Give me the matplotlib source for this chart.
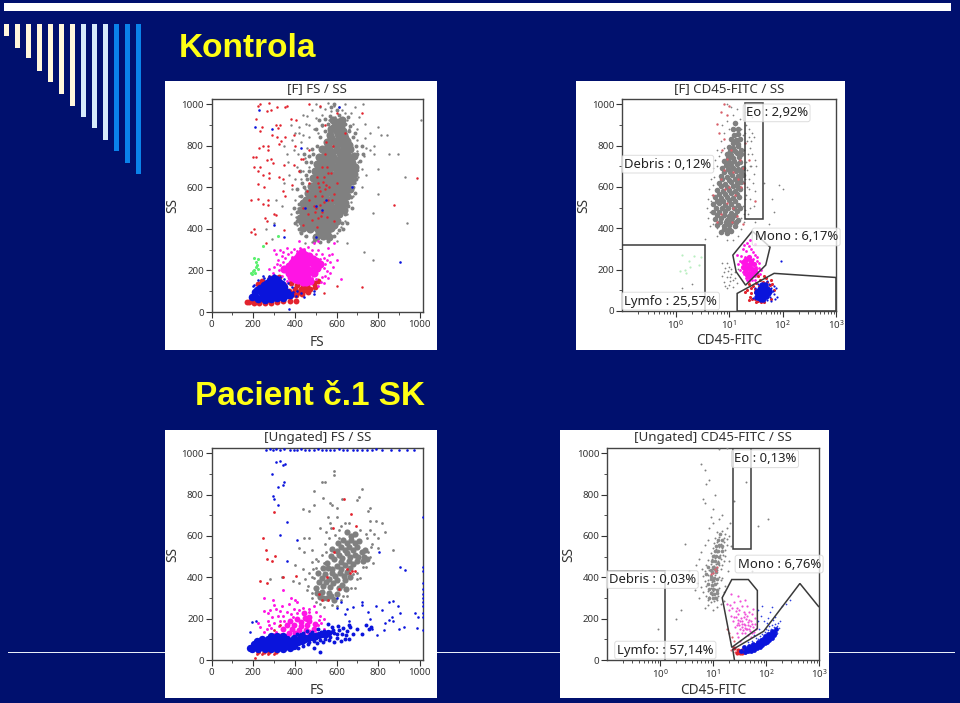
import numpy as np
from matplotlib import pyplot as plt
from matplotlib.patches import Rectangle, Polygon

# Points: (FS or CD45, SS)
# ---- panel 1: [F] FS / SS
f1_gray_core = [(500,362),(535,368),(565,360),(440,402),(472,398),(508,405),(540,396),(575,403),
    (435,432),(468,438),(503,430),(538,436),(572,433),(602,440),(440,468),(475,473),(510,466),(545,472),(580,468),(612,474),
    (445,503),(480,508),(515,502),(550,507),(585,501),(620,506),(452,538),(488,543),(523,536),(558,541),(593,537),(628,542),
    (465,573),(500,578),(535,571),(570,577),(605,572),(640,576),(478,608),(512,613),(547,606),(582,612),(617,607),(650,611),
    (488,643),(522,648),(557,641),(592,647),(627,642),(660,646),(495,678),(530,683),(565,676),(600,682),(635,677),(668,681),
    (505,713),(540,718),(575,711),(610,717),(645,712),(675,716),(515,748),(550,753),(585,746),(620,752),(655,747),
    (530,783),(565,788),(600,781),(635,787),(665,782),(552,818),(587,823),(622,816),(652,822),(570,853),(605,858),(635,851),(588,888),(622,893)]
f1_gray_fill = [(518,385),(552,383),(458,418),(490,420),(525,418),(558,420),(590,420),(452,452),(487,452),(522,450),(556,452),(592,452),(425,450),(458,488),(492,488),(528,486),(562,488),(598,488),(634,490),(428,490),
    (465,522),(500,522),(535,520),(570,522),(606,520),(640,525),(438,525),(478,556),(512,558),(547,555),(582,557),(618,556),(652,558),(490,590),(525,592),(558,590),(594,592),(630,590),(664,592),
    (500,628),(535,628),(570,626),(605,628),(640,626),(674,628),(510,662),(545,662),(582,660),(617,662),(650,660),(682,662),(518,698),(552,698),(590,696),(625,698),(660,696),(690,698),
    (530,732),(565,732),(600,730),(635,732),(670,730),(545,766),(580,768),(615,766),(650,766),(682,750),(560,802),(596,802),(630,802),(662,802),(575,838),(610,838),(642,838),(600,872),(630,872),(575,880),(605,915),(625,925),(585,925)]
f1_gray_edge = [(418,400),(412,440),(410,480),(418,520),(430,560),(445,600),(460,640),(470,680),(478,720),(488,760),(505,800),(520,840),(545,870),(560,905),(570,945),(610,950),(640,905),(660,870),(680,840),(695,800),(700,760),(712,725),(700,685),(695,640),(680,600),(670,555),(655,510),(640,470),(625,430),(610,395),(590,365),(560,340),(520,335),(490,340),(455,365),(430,380),(600,970),(575,985),(590,1000),(615,925),(655,940),
    (480,785),(470,750),(455,720),(452,660),(435,620),(412,590),(425,680),(445,760),(530,900),(545,930),(500,880),(515,925),(665,895),(690,860),(720,800),(725,760),(690,575),(675,500),(650,430),(400,430),(395,500),(630,400)]
f1_gray_halo = [(500,1000),(520,985),(480,970),(545,975),(575,965),(610,985),(640,960),(690,985),(725,1000),(460,945),(500,935),(530,950),(565,925),(595,940),(650,925),(680,905),(710,940),
    (420,890),(455,905),(490,880),(530,895),(660,880),(700,880),(735,905),(760,860),(800,890),(815,850),(400,860),(440,850),(470,840),(510,860),(700,830),(735,835),(780,800),
    (850,760),(895,760),(780,760),(740,790),(730,750),(700,775),(705,720),(720,690),(800,690),(740,660),(705,650),(690,620),(720,600),(800,570),(680,560),(670,530),
    (460,790),(450,740),(470,700),(440,680),(410,700),(430,640),(450,590),(420,560),(400,540),(415,500),(405,455),(410,420),(425,385),(450,365),(650,470),(640,440),(775,475),(620,410),(600,380),
    (310,540),(300,430),(350,620),(380,470),(340,510),(360,760),(385,830),(290,350),(260,400),(650,330),(600,340),(520,335),(480,335),(450,330),(730,290),(775,250),
    (395,780),(415,760),(400,640),(385,590),(370,660),(365,720),(350,800),(440,950),(470,900),(380,900),(430,820),(420,860),(760,780),(670,960),(640,1000),(560,1005),(590,990),(625,970),(930,650),(940,430),(1005,925),(840,850)]
f1_red_sparse = [(225,990),(235,1000),(275,1005),(265,965),(285,970),(315,985),(355,985),(360,990),(215,930),(240,890),(235,870),(310,900),(320,885),(330,900),(290,850),(315,840),(335,825),(245,800),(230,790),
    (270,800),(270,780),(325,810),(355,840),(395,850),(380,930),(405,925),(200,745),(215,745),(205,700),(235,700),(265,730),(285,735),(295,715),(350,705),(395,705),(430,735),(225,680),(245,660),(275,670),(275,645),
    (325,650),(345,640),(385,610),(225,615),(250,600),(190,540),(225,545),(245,520),(270,515),(270,540),(345,580),(355,560),(300,470),(310,465),(255,450),(265,440),(190,385),(205,400),(210,375),(260,330),(350,395),
    (420,680),(440,735),(400,800),(470,780),(470,540),(490,510),(495,560),(510,620),(520,580),(540,650),(560,670),(575,670),(530,700),(545,760),(585,800),(550,820),(540,530),(525,460),(555,455),(480,445),(505,410),(530,480),(580,540),(600,620),
    (520,990),(470,1000),(545,900),(600,960),(720,960),(640,860),(985,645),(875,515),(440,420),(590,440),(720,120),(600,125),(540,90),(440,500),(460,580),
    (515,600),(530,560),(550,610),(565,600),(505,650),(535,625),(495,480),(465,470),(510,450),(500,500),(520,515),(545,590),(555,700),(560,540),(590,570),(470,620)]
f1_red_low = [(180,48),(205,42),(230,42),(255,42),(285,45),(315,48),(345,52),(375,55),(235,60),(275,58),(345,70),(375,75),(405,80),(405,55),(435,85),(465,95),(495,118),(430,110),(400,110),(370,100),
    (460,125),(490,140),(510,150),(260,130),(290,140),(300,165),(240,150),(225,135),(380,140),(390,92),(420,98),(450,108),(475,112),(410,130),(440,130),(350,130),(325,170),(280,165),(200,55),(170,48)]
f1_magenta_core = [(370,190),(400,180),(430,170),(460,170),(490,190),(370,220),(400,215),(430,205),(460,205),(490,225),(395,250),(425,240),(455,240),(485,255),(420,275),(450,275),(400,160),(440,145),(520,230),
    (350,205),(385,200),(415,195),(445,188),(475,195),(505,210),(385,235),(415,225),(445,222),(475,240),(410,260),(440,258),(470,270),(500,245),(380,170),(415,155),(455,145),(475,150),(435,290)]
f1_magenta_halo = [(320,250),(300,215),(340,175),(330,225),(355,260),(345,290),(380,290),(395,305),(425,310),(465,315),(490,330),(510,300),(530,280),(540,260),(555,250),(590,330),
    (510,200),(540,210),(570,190),(560,165),(530,170),(540,140),(510,125),(480,165),(570,240),(585,215),(310,280),(295,190),(360,150),(330,150),(620,160),(580,280),(600,250),
    (325,200),(315,230),(345,240),(365,280),(385,265),(410,295),(445,305),(480,300),(500,280),(520,255),(545,230),(555,195),(545,175),(525,145),(500,160),(340,270),(360,310),(300,300),(275,205),(330,300),(420,340),(510,340),(565,275),(560,310)]
f1_blue_core = [(195,70),(225,62),(255,60),(285,62),(315,65),(345,68),(375,80),(210,95),(240,90),(270,88),(300,90),(330,92),(360,98),(235,115),(265,115),(295,118),(325,120),(350,122),(265,140),(295,145),(325,145),(300,165),
    (210,75),(240,72),(270,72),(300,72),(330,75),(360,80),(220,105),(250,102),(285,105),(315,105),(345,108),(250,128),(280,130),(310,132),(340,135),(280,155),(310,158)]
f1_blue_sparse = [(205,130),(225,155),(250,165),(245,175),(275,175),(300,180),(330,170),(390,95),(410,100),(430,90),(490,85),(370,15),(610,985),(230,970),(290,880),(210,890),(430,790),(350,360),(300,420),(500,510),(530,490),(675,600),(450,500),(905,240),(550,540),(500,360),(200,125),(385,120),(365,140),(350,160),(405,75),(490,100),(445,70)]
f1_green = [(205,200),(195,185),(210,190),(215,215),(212,240),(205,260),(225,205),(320,365),(245,320),(200,195),(218,225),(190,190),(222,255)]

# ---- panel 2: [F] CD45-FITC / SS
f2_gray_core = [(7,380),(9,375),(11,385),(6,415),(8,412),(10,418),(13,410),(5.5,445),(7,450),(9,442),(11.5,448),(15,440),
    (5,480),(6.5,478),(8.5,484),(11,476),(14,482),(5,515),(6.5,520),(8.5,512),(11,518),(14.5,513),(5.5,550),(7,545),(9,552),(12,547),(15.5,553),
    (6,585),(7.8,580),(10,587),(13,582),(16,588),(6.5,620),(8.5,615),(11,622),(14,617),(17,623),(7,655),(9,650),(11.5,657),(14.5,652),(18,658),
    (7.5,690),(9.5,685),(12,692),(15,687),(18,693),(8,725),(10,720),(12.5,727),(16,722),(9,760),(11,755),(14,762),(17,757),(10,795),(12,790),(15,797),(11,830),(13.5,825),(16,832)]
f2_gray_fill = [(8,395),(10,398),(6.7,432),(8.7,430),(11,432),(13.5,428),(6,462),(8,465),(10,460),(12.8,465),(5.8,498),(7.5,500),(9.7,497),(12.5,500),(16,498),(6,532),(7.8,530),(10,535),(13,532),(6.5,568),(8.3,565),(11,570),(14,567),
    (7,602),(9,600),(11.8,605),(15,600),(7.5,638),(10,635),(12.8,640),(16,637),(8.2,672),(10.5,670),(13.5,675),(17,670),(8.7,708),(11,705),(14,710),(9.5,742),(12,738),(15.5,745),(10.5,775),(13,772),(16.5,778),(12,810),(14.5,808),(12.5,850),(15,855),(12,880),(14.5,880),(13,910)]
f2_gray_halo = [(9,1000),(11,985),(14,975),(20,960),(27,940),(12,950),(16,930),(21,900),(24,880),(27,860),(29,840),(13,900),(17,880),(8,860),(10,880),(22,820),(25,790),(27,760),(30,730),(32,700),(26,700),(29,660),
    (24,640),(28,620),(22,600),(30,580),(25,540),(29,510),(20,490),(23,470),(19,430),(17,395),(15,365),(12,345),(9,345),(6,365),(4.5,410),(4,450),(3.8,500),(4,540),(4.2,590),(4.6,640),(5,690),(5.5,730),(6,780),(7,820),(8,790),
    (9,230),(10,215),(8,190),(11,180),(9,165),(12,150),(8,140),(10,125),(13,190),(12,115),(14,135),(7.5,230),(9,110),(10.5,145),(15,205),(70,480),(85,610),(55,420),(65,540),(30,430),(3.5,350),(2,130),(1.3,110),(100,590),(45,620),
    (19,780),(21,720),(22,680),(20,640),(21,560),(20,540),(18,510),(19,470),(17,450),(4.5,480),(4.6,530),(5,610),(5.3,650),(6,700),(6.5,750),(7,770),(7.5,900),(9,920),(18,850),(20,860),(24,840),(26,820),(23,760),(25,700),(24,590),(25,500),(8.5,210),(9.5,195),(10.5,165),(7.5,170),(8.5,120),(11,205),(13,160),(6,400),(5,420),(4.8,560)]
f2_red = [(8,1000),(10,990),(7,960),(9,950),(6,905),(6.5,860),(8,830),(7.5,780),(9,735),(8,680),(7,640),(12,670),(15,640),(17,600),(13,560),(9,520),(7,470),(6,430),(12,500),(14,460),(18,690),(16,730),(11,780),(10,600),(8.5,590),(11.5,430),(5,560),(19,620),(24,730),(30,530),(18,420),(20,810)]
f2_magenta = [(14,270),(16,240),(18,210),(16,200),(19,180),(21,160),(24,145),(27,150),(31,170),(34,190),(36,210),(34,240),(30,270),(26,300),(22,330),(18,300),(20,260),(22,230),(24,200),(27,190),(23,260),(29,225),(20,205),(25,170),(32,215),(21,290),(25,235),(28,250),(25,345),(30,325),(38,180),(15,225),(17,265),(19,320),(24,315),(28,285),(33,260),(37,230),(40,200),(18,190),(22,150),(30,150)]
f2_magenta_core = [(20,225),(23,215),(26,210),(20,195),(24,185),(28,195),(22,250),(26,240),(24,165),(29,225),(18,235),(22,175),(18,215),(21,205),(25,225),(30,205),(27,175),(24,260),(20,245),(32,185)]
f2_red_low = [(24,130),(28,120),(32,135),(38,150),(22,100),(26,85),(30,60),(35,50),(40,45),(25,70),(30,105),(50,160),(60,150),(65,130),(70,100),(62,60),(20,90),(45,170),(35,170),(26,110),(30,90),(27,60),(32,45),(45,45),(36,120),(44,140),(52,140),(24,55),(58,125)]
f2_blue_core = [(33,70),(38,65),(44,65),(50,72),(34,90),(40,85),(46,88),(53,85),(38,108),(44,110),(51,105),(42,125),(48,128),(36,78),(42,75),(48,80),(36,98),(42,98),(48,98),(41,58),(55,95),(46,118)]
f2_blue_sparse = [(28,65),(30,85),(58,70),(60,90),(62,110),(66,95),(57,130),(52,145),(35,130),(70,80),(75,110),(46,50),(38,50),(80,70),(95,240),(68,120),(72,60),(30,110),(52,55),(60,50)]
f2_green = [(1.5,200),(1.8,240),(2.2,265),(1.9,215),(1.6,185),(1.2,195),(3,260),(2.7,220),(1.3,270)]
f2_debris_gate = [(0.1,318),(3.6,318),(3.6,0)]
f2_eo_gate = [(19.6,445),(44,445),(44,1005),(19.6,1005)]
f2_mono_gate = [(27.3,386),(58.6,309),(48.6,222),(20.4,125),(13.6,190),(11.8,270)]
f2_lymfo_gate = [(14.2,0),(14.2,85),(69.7,182),(1000,162),(1000,0)]

# ---- panel 3: [Ungated] FS / SS
f3_gray_core = [(555,300),(590,290),(530,330),(565,325),(600,320),(500,350),(535,360),(570,355),(610,350),(645,345),(530,395),(565,390),(600,385),(640,385),(580,420),(615,420),(650,425),(560,445),(600,455),
    (640,460),(680,465),(590,490),(625,495),(665,500),(705,500),(600,525),(640,530),(680,530),(720,520),(650,565),(690,565),(670,600)]
f3_gray_fill = [(520,305),(505,325),(535,300),(575,310),(515,375),(550,375),(585,370),(625,365),(545,415),(510,420),(595,405),(635,405),(665,400),(535,445),(580,440),(620,440),(665,445),(555,470),(620,475),(660,480),(700,480),
    (575,505),(610,510),(650,515),(690,510),(730,500),(620,545),(660,545),(700,545),(735,530),(630,580),(670,580),(710,575),(650,620),(690,610),(725,480),(745,490),(580,535),(605,565)]
f3_gray_halo = [(590,915),(590,895),(530,860),(545,860),(720,825),(710,790),(625,780),(490,815),(490,750),(535,785),(570,760),(580,750),(600,735),(700,775),(760,735),(750,720),(470,720),
    (440,730),(600,690),(560,690),(640,660),(570,660),(760,670),(790,670),(820,660),(835,620),(780,610),(800,590),(740,610),(520,640),(550,620),(610,630),(770,560),(800,540),(870,530),(760,500),(740,450),
    (700,420),(750,520),(470,590),(445,590),(420,540),(445,520),(480,475),(400,460),(440,440),(470,420),(500,445),(450,390),(480,400),(420,370),(390,380),(340,400),(280,390),(460,340),(480,300),(500,280),(540,255),(600,260),(590,300),(630,310),(670,350),(700,390),(510,480),(550,520),(540,470),
    (575,640),(595,605),(620,650),(660,660),(715,630),(745,590),(760,630),(765,545),(775,470),(725,450),(715,395),(680,415),(690,350),(650,310),(620,290),(580,265),(520,270),(480,325),(465,360),(490,395),(485,440),(500,490),(530,510),(545,560),(565,590),(610,590),(480,530)]
f3_red = [(300,715),(635,780),(585,640),(670,705),(695,650),(245,590),(260,530),(265,490),(290,480),(305,505),(345,400),(405,405),(235,380),(265,370),(530,290),(560,290),(515,320),(590,520),(650,440),(675,430),(690,430),(665,420),(610,345),(555,400),(300,145),(330,170),(310,100),(270,30),(220,30),(240,30),(300,30),(230,40),(210,8)]
f3_red_low = [(225,40),(250,40),(275,38),(310,38)]
f3_magenta_core = [(370,130),(400,130),(440,120),(470,135),(360,170),(395,170),(430,165),(460,170),(495,175),(410,200),(450,205),(470,210),(345,150),(385,150),(420,145),(455,145),(490,150),(375,190),(430,185),(445,225),(470,190),(415,115),(360,115)]
f3_magenta_halo = [(250,235),(270,225),(290,210),(310,245),(340,260),(370,270),(400,290),(410,280),(440,250),(470,245),(500,230),(520,215),(540,200),(270,190),(300,180),(330,190),(345,150),(265,150),(250,135),(300,125),(235,160),(225,180),(345,215),(380,220),(420,240),(355,115),(400,100),(500,130),(510,170),(540,150),(430,90),(460,100),(295,290),(250,300),(345,340),(380,300),(490,260),(455,195),
    (320,215),(360,230),(395,245),(325,165),(285,155),(310,135),(335,125),(275,170),(390,210),(515,195),(525,180),(505,150),(350,190),(280,240),(330,235),(410,225),(470,230),(300,265)]
f3_blue_core = [(195,55),(225,52),(255,52),(285,55),(315,55),(345,55),(375,60),(205,78),(235,78),(265,78),(295,80),(325,80),(355,80),(385,80),(415,85),(240,100),(270,102),(300,105),(330,105),(360,100),(395,105),(450,100),(480,110),(515,120),(545,125),(430,115),
    (210,65),(240,65),(270,65),(300,65),(330,68),(360,68),(395,68),(220,90),(250,90),(285,92),(315,92),(345,92),(375,92),(405,95),(285,115),(315,118),(345,115),(435,90),(465,105),(495,115),(530,125),(560,130),(185,60)]
f3_blue_band = [(415,60),(440,70),(465,75),(490,90),(520,95),(545,100),(570,110),(590,130),(610,145),(630,155),(650,140),(665,160),(640,100),(620,90),(660,100),(580,160),(560,175),(540,140),(510,150),(480,135),(460,140),(440,130),(600,105),(680,125),(700,150),(720,125),(740,170),(755,150),(765,160),(520,40),(590,85),(660,170),(490,60),
    (425,105),(450,115),(475,125),(500,105),(525,135),(550,115),(575,135),(600,125),(625,125),(645,120),(410,125),(470,85),(505,80),(535,85),(565,95),(585,145),(605,165)]
f3_blue_sparse = [(290,900),(310,955),(330,960),(345,945),(355,950),(295,795),(300,780),(320,750),(320,835),(345,845),(350,860),(360,665),(330,605),(410,580),(360,480),(720,280),(680,255),(650,245),(620,280),(600,300),(640,220),(600,250),(660,190),(720,265),(750,230),(790,260),(850,280),(820,240),(870,285),
    (895,260),(905,225),(865,210),(870,190),(835,180),(850,195),(900,150),(925,160),(975,225),(990,210),(985,155),(905,450),(930,435),(770,150),(795,120),(830,145),(805,520),(760,200),(215,190),(195,185),(185,135)]
f3_blue_top = [(262,1015),(280,1018),(295,1015),(310,1020),(330,1016),(350,1018),(375,1015),(395,1015),(410,1016),(430,1018),(450,1015),(470,1017),(490,1015),(510,1018),(530,1016),(550,1015),(570,1017),(590,1015),(610,1018),(630,1015),(650,1016),(680,1015),(700,1017),(720,1015),(745,1016),(770,1015),(790,1018),(820,1015),(860,1016),(900,1015),(940,1017),(970,1015)]
f3_blue_right = [(1015,145),(1015,210),(1015,225),(1015,260),(1015,280),(1015,300),(1015,320),(1015,345),(1015,370),(1015,430),(1015,450),(1015,690)]

# ---- panel 4: [Ungated] CD45-FITC / SS
f4_gray = [(8,290),(9,280),(10.5,285),(12,290),(7.5,310),(8.5,305),(9.5,315),(11,305),(12.5,310),(6.5,330),(8,335),(9,330),(10,335),(11.5,325),(6,355),(7.5,360),(9,350),(10,358),(11,345),(13,350),
    (7,380),(8,385),(9.5,375),(10.5,380),(12,370),(14,385),(6.5,405),(8.2,410),(9,400),(10,420),(11,410),(13,400),(15,395),(7,430),(8.5,435),(9.8,440),(10.8,430),(12,435),(14,440),(6.2,440),
    (7.5,460),(9,465),(10.5,455),(11.5,465),(13,460),(15,460),(8,485),(9.5,490),(11,495),(12.5,480),(14,490),(16,480),(9,515),(10.5,510),(11.8,520),(13.5,510),(15.5,510),(17,505),(10,540),(11.5,535),(13,545),(15,540),(17,530),
    (10.5,565),(12,570),(14,560),(16,570),(18,555),(11,590),(13,595),(16,590),(18,585),(12,620),(15,625),(17,610),
    (7,250),(8,265),(10,240),(12,255),(14,270),(16,285),(5.5,300),(5,370),(4.5,340),(4,410),(4.8,460),(5.5,490),(6,520),(7,555),(8,580),(8.5,640),(10,660),(9,690),(7,760),(6.5,780),(7.5,850),(6,950),(7,920),(8.5,870),(11,800),(10,730),(13,680),(15,700),(18,640),(20,600),(22,550),(20,480),(19,430),(17,360),(16,330),(3,560),(3.5,430),(25,770),(42,860),(21,660),(110,680),(70,650),(55,430),(2.5,240),(2,200),(0.9,150),(13,1020),(18,1025)]
f4_gray_dense = [(8.5,300),(10,298),(11.2,300),(9,322),(10.5,318),(12,322),(8.5,345),(9.8,345),(12,340),(8.2,368),(9.5,365),(11,368),(9,392),(10.5,395),(12,392),(7.5,418),(9.5,425),(11.5,425),(8,448),(10,450),(11.5,445),(9.5,478),(11,478),(12.5,470),(10,502),(11.5,505),(13,498),(10.8,525),(12.5,528),(14.5,525),(11.5,552),(13,555),(14.8,550),(12.5,582),(14.5,578),(13.5,608),(9,405),(10.2,385),(11,440),(9.2,435)]
f4_red = [(11,440),(11.5,430),(10,420),(9,415),(12,450),(20,130),(23,110),(25,90),(18,150),(22,50),(26,40)]
f4_red_low = [(28,35),(32,32),(36,32),(40,38),(30,50),(35,48),(25,60)]
f4_magenta = [(18,270),(20,240),(22,215),(24,190),(26,160),(28,130),(30,110),(32,90),(25,280),(28,250),(30,220),(33,190),(36,160),(40,130),(35,260),(38,230),(42,200),(46,170),(50,140),(40,290),(44,260),(48,230),(52,190),(56,160),(60,135),(23,250),(27,210),(31,170),(36,130),(44,150),(48,195),(55,220),(62,175),(65,150),(30,310),(22,320),(33,285),(38,175),(41,220),(34,205),(29,195),(45,120),(52,110),(58,245),(62,205),
    (30,180),(35,175),(40,170),(45,185),(32,150),(37,145),(42,150),(50,165),(28,170),(25,210),(31,240),(38,210),(44,215),(36,190),(48,150),(55,130),(27,235),(21,265),(54,175),(40,155)]
f4_blue_core = [(34,42),(40,40),(46,42),(52,45),(60,50),(68,58),(76,65),(85,72),(38,62),(46,60),(55,66),(64,74),(72,82),(82,88),(92,92),(100,95),(110,105),(120,115),(132,125),(143,135),(152,150),(95,115),(108,128),
    (42,50),(50,52),(58,58),(66,65),(74,72),(84,80),(94,84),(104,88),(115,95),(128,108),(140,120),(150,130),(60,72),(70,88),(88,102),(100,110),(118,125),(130,138),(48,68),(56,78),(80,95)]
f4_blue_sparse = [(45,85),(55,90),(70,100),(85,125),(100,150),(115,165),(130,170),(150,175),(160,165),(90,190),(110,205),(80,215),(70,240),(85,260),(120,230),(130,255),(150,210),(180,190),(200,260),(240,270),(280,290),(70,190),(60,120),(160,130),(175,155),(65,105),(78,115),(95,135),(110,145),(125,150),(140,160),(75,150),(105,180),(135,195),(165,180)]
f4_debris_gate = [(0.1,430),(1.26,430),(1.26,0)]
f4_eo_gate = [(23.6,536),(51.5,536),(51.5,1030),(23.6,1030)]
f4_mono_gate = [(22.6,389),(46.5,389),(68.7,336),(68.7,152),(22.6,61),(14.9,301)]
f4_lymfo_gate = [(25.4,0),(23.6,51),(90.4,139),(436,370),(1000,256)]

# bars in the slide corner: right-hand ones are blue
bar_bottoms = [36,48,58,71,82,94,106,117,128,140,151,163,174]
bar_colors = ['#FFF7DC']*7 + ['#D6EAFB']*3 + ['#0A82EA']*3

W, H = 960, 703
BG = '#00106E'
GRAY, RED, BLUE, MAGENTA, GREEN = '#808080', '#E2232E', '#0A14DC', '#FF14E4', '#5CF070'
FONT = 'Noto Sans'
plt.rcParams['font.family'] = FONT
plt.rcParams['mathtext.default'] = 'regular'


def pxRect(fig, x0, y0, x1, y1, color, z=1):
    fig.add_artist(Rectangle((x0/W, 1-y1/H), (x1-x0)/W, (y1-y0)/H, transform=fig.transFigure,
                             facecolor=color, edgecolor='none', zorder=z))


def dots(ax, pts, color, s=2.5):
    pts = np.array(pts)
    ax.scatter(pts[:,0], pts[:,1], s=s, c=color, linewidths=0, zorder=3)


def makePanel(fig, box, area, title, xlabel, isLog):
    pxRect(fig, box[0], box[1], box[2], box[3], 'white', z=2)
    l, t, r, b = area
    ax = fig.add_axes([l/W, 1-b/H, (r-l)/W, (b-t)/H], zorder=5)
    ax.set_ylim(0, 1025)
    ax.set_yticks(range(0, 1001, 200))
    ax.set_yticks(range(0, 1001, 100), minor=True)
    if isLog:
        ax.set_xscale('log')
        ax.set_xlim(0.1, 1000)
        ax.set_xticks([1, 10, 100, 1000])
    else:
        ax.set_xlim(0, 1015)
        ax.set_xticks(range(0, 1001, 200))
        ax.set_xticks(range(0, 1001, 100), minor=True)
    ax.tick_params(which='major', length=4, width=0.8, labelsize=7, color='#333333', labelcolor='#333333', pad=1.5)
    ax.tick_params(which='minor', length=2, width=0.6, color='#333333')
    for sp in ax.spines.values():
        sp.set_color('#444444')
        sp.set_linewidth(1.0)
    fig.text((l+r)/2/W, 1-(t-10)/H, title, ha='center', va='center', fontsize=9.6, color='#333333', zorder=6)
    fig.text((l+r)/2/W, 1-(b+30)/H, xlabel, ha='center', va='center', fontsize=9.8, color='#333333', zorder=6)
    fig.text((l-38.5)/W, 1-(t+b)/2/H, 'SS', ha='center', va='center', rotation=90, fontsize=9.8, color='#333333', zorder=6)
    return ax


def gate(ax, pts, closed=True):
    ax.add_patch(Polygon(pts, closed=closed, fill=False, edgecolor='#3A3A3A', linewidth=1.1, zorder=4, clip_on=True))


def gateLabel(ax, x, y, text):
    ax.text(x, y, text, fontsize=9.4, color='#222222', va='center', ha='left', zorder=6,
            bbox=dict(boxstyle='round,pad=0.18', facecolor='white', edgecolor='#D4D4D4', linewidth=0.7, alpha=0.78))


fig = plt.figure(figsize=(W/100, H/100), dpi=100, facecolor=BG)

# slide decoration
pxRect(fig, 4, 3, 951, 11, 'white')
pxRect(fig, 8, 651.5, 955, 653, '#E8EEF8')
for i in range(13):
    pxRect(fig, 4+11*i, 24, 9+11*i, bar_bottoms[i], bar_colors[i])
fig.text(179/W, 1-57/H, 'Kontrola', color='#FFFF14', fontsize=24, fontweight='bold', family='Liberation Sans', va='baseline')
fig.text(195/W, 1-405/H, 'Pacient č.1 SK', color='#FFFF14', fontsize=24, fontweight='bold', family='Liberation Sans', va='baseline')

# panel 1
ax1 = makePanel(fig, (165,81,437,350), (211.5,99,423,312), '[F] FS / SS', 'FS', False)
dots(ax1, f1_gray_halo, GRAY, 3)
dots(ax1, f1_gray_edge, GRAY, 8)
dots(ax1, f1_gray_core, GRAY, 34)
dots(ax1, f1_gray_fill, GRAY, 34)
dots(ax1, f1_red_low, RED, 18)
dots(ax1, f1_magenta_core, MAGENTA, 34)
dots(ax1, f1_magenta_halo, MAGENTA, 4)
dots(ax1, f1_red_sparse, RED, 3.2)
dots(ax1, f1_blue_core, BLUE, 30)
dots(ax1, f1_blue_sparse, BLUE, 3.5)
dots(ax1, f1_green, GREEN, 5)

# panel 2
ax2 = makePanel(fig, (576,81,845,350), (622,99,836,311), '[F] CD45-FITC / SS', 'CD45-FITC', True)
dots(ax2, f2_gray_halo, GRAY, 1.6)
dots(ax2, f2_gray_core, GRAY, 16)
dots(ax2, f2_gray_fill, GRAY, 16)
dots(ax2, f2_red, '#D8606A', 3)
dots(ax2, f2_magenta, MAGENTA, 4)
dots(ax2, f2_magenta_core, MAGENTA, 14)
dots(ax2, f2_red_low, RED, 5)
dots(ax2, f2_blue_core, BLUE, 22)
dots(ax2, f2_blue_sparse, BLUE, 2.5)
dots(ax2, f2_green, '#B8EEC0', 2.5)
gate(ax2, f2_debris_gate, closed=False)
gate(ax2, f2_eo_gate)
gate(ax2, f2_mono_gate)
gate(ax2, f2_lymfo_gate)
gateLabel(ax2, 20.4, 958, 'Eo : 2,92%')
gateLabel(ax2, 0.11, 710, 'Debris : 0,12%')
gateLabel(ax2, 30, 358, 'Mono : 6,17%')
gateLabel(ax2, 0.11, 48, 'Lymfo : 25,57%')

# panel 3
ax3 = makePanel(fig, (165,430,437,698), (211.5,448,423,660), '[Ungated] FS / SS', 'FS', False)
dots(ax3, f3_gray_halo, GRAY, 4)
dots(ax3, f3_gray_core, GRAY, 20)
dots(ax3, f3_gray_fill, GRAY, 20)
dots(ax3, f3_magenta_core, MAGENTA, 18)
dots(ax3, f3_magenta_halo, MAGENTA, 4.5)
dots(ax3, f3_red, RED, 4)
dots(ax3, f3_red_low, RED, 10)
dots(ax3, f3_blue_core, BLUE, 28)
dots(ax3, f3_blue_band, BLUE, 8)
dots(ax3, f3_blue_sparse, BLUE, 3.5)
dots(ax3, f3_blue_top, BLUE, 3.5)
dots(ax3, f3_blue_right, BLUE, 3.5)

# panel 4
ax4 = makePanel(fig, (560,430,829,698), (607,448,819,660), '[Ungated] CD45-FITC / SS', 'CD45-FITC', True)
dots(ax4, f4_gray, GRAY, 2)
dots(ax4, f4_gray_dense, '#8C8C8C', 7)
dots(ax4, f4_magenta, '#F050D8', 2.5)
dots(ax4, f4_red, '#E06070', 2.5)
dots(ax4, f4_red_low, RED, 9)
dots(ax4, f4_blue_core, BLUE, 12)
dots(ax4, f4_blue_sparse, '#3040E0', 1.5)
gate(ax4, f4_debris_gate, closed=False)
gate(ax4, f4_eo_gate)
gate(ax4, f4_mono_gate)
gate(ax4, f4_lymfo_gate, closed=False)
gateLabel(ax4, 24.7, 973, 'Eo : 0,13%')
gateLabel(ax4, 0.108, 389, 'Debris : 0,03%')
gateLabel(ax4, 29, 464, 'Mono : 6,76%')
gateLabel(ax4, 0.155, 48, 'Lymfo: : 57,14%')

fig.savefig('out.png', dpi=100, facecolor=BG)
